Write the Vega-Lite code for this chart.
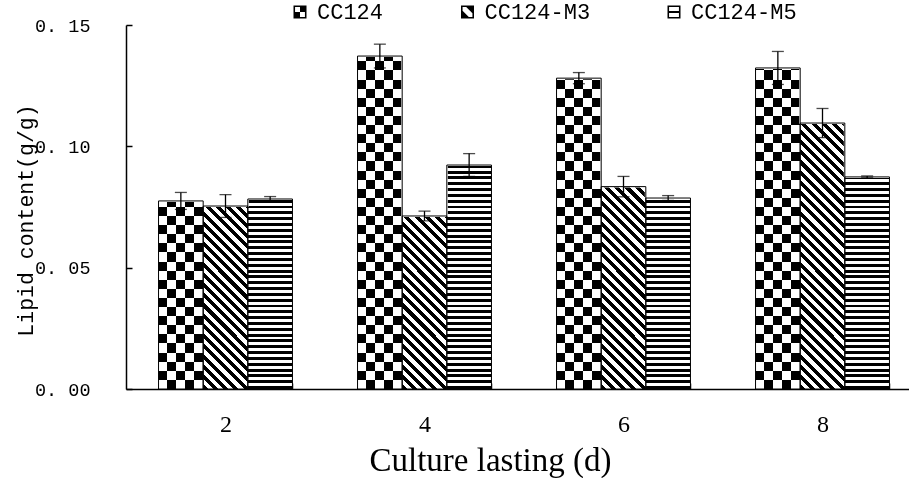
{
"$schema": "https://vega.github.io/schema/vega-lite/v6.json",
"width": 783,
"height": 364,
"autosize": {"type": "none"},
"padding": {"left": 126, "top": 25, "right": 0, "bottom": 89},
"background": "white",
"config": {"view": {"stroke": null}, "axis": {"grid": false}},
"data": {"values": [
{"day": 2, "series": "CC124", "value": 0.0775, "lo": 0.074, "hi": 0.081},
{"day": 2, "series": "CC124-M3", "value": 0.0754, "lo": 0.0707, "hi": 0.0801},
{"day": 2, "series": "CC124-M5", "value": 0.0783, "lo": 0.0773, "hi": 0.0793},
{"day": 4, "series": "CC124", "value": 0.1372, "lo": 0.1323, "hi": 0.1421},
{"day": 4, "series": "CC124-M3", "value": 0.0713, "lo": 0.0693, "hi": 0.0733},
{"day": 4, "series": "CC124-M5", "value": 0.0923, "lo": 0.0876, "hi": 0.097},
{"day": 6, "series": "CC124", "value": 0.1281, "lo": 0.1258, "hi": 0.1304},
{"day": 6, "series": "CC124-M3", "value": 0.0834, "lo": 0.0792, "hi": 0.0876},
{"day": 6, "series": "CC124-M5", "value": 0.0787, "lo": 0.0777, "hi": 0.0797},
{"day": 8, "series": "CC124", "value": 0.1323, "lo": 0.1255, "hi": 0.1391},
{"day": 8, "series": "CC124-M3", "value": 0.1096, "lo": 0.1036, "hi": 0.1156},
{"day": 8, "series": "CC124-M5", "value": 0.0874, "lo": 0.087, "hi": 0.0878}
]},
"encoding": {
"x": {"field": "day", "type": "ordinal", "scale": {"range": [0, 796], "paddingInner": 0.327, "paddingOuter": 0.1635},
"axis": {"title": "Culture lasting (d)", "labelAngle": 0, "tickBand": "extent", "tickSize": -6, "tickWidth": 1.5, "tickColor": "#000", "domainColor": "#000", "domainWidth": 1.5, "labelFont": "Liberation Serif", "labelFontSize": 24, "labelColor": "#000", "labelPadding": 29, "titleFont": "Liberation Serif", "titleFontSize": 33, "titleFontWeight": "normal", "titleColor": "#000", "titleX": 364, "titleY": 81, "titleBaseline": "alphabetic", "titleAlign": "center"}},
"xOffset": {"field": "series", "type": "nominal", "scale": {"domain": ["CC124", "CC124-M3", "CC124-M5"], "paddingInner": 0, "paddingOuter": 0}}
},
"layer": [
{"mark": {"type": "point", "filled": true, "color": "#000", "size": 169, "opacity": 1},
"encoding": {
"y": {"field": "value", "type": "quantitative", "title": "Lipid content(g/g)", "scale": {"domain": [0, 0.15], "nice": false},
"axis": {"title": "Lipid content(g/g)", "values": [0, 0.05, 0.1, 0.15], "labelExpr": "replace(format(datum.value,'.2f'),'.','. ')", "labelFlush": false, "tickSize": -6, "tickWidth": 1.5, "tickColor": "#000", "domainColor": "#000", "domainWidth": 1.5, "labelFont": "Liberation Mono", "labelFontSize": 18.5, "labelColor": "#000", "labelPadding": 42, "titleFont": "Liberation Mono", "titleFontSize": 21.5, "titleFontWeight": "normal", "titleColor": "#000", "titleX": -94, "titleY": 195, "titleAngle": 270, "titleBaseline": "alphabetic", "titleAlign": "center"}},
"shape": {"field": "series", "type": "nominal", "scale": {"range": [
"M-1,-1H1V1H-1ZM-0.76,-0.76V0.76H0.76V-0.76ZM0,-0.76H0.76V0H0ZM-0.76,0H0V0.76H-0.76Z",
"M-1,-1H1V1H-1ZM-0.76,-0.76V0.76H0.76V-0.76ZM-0.2,-0.76H0.76V0.2ZM-0.76,-0.2L0.2,0.76H-0.76Z",
"M-1,-1H1V1H-1ZM-0.76,-0.76V0.76H0.76V-0.76ZM-0.76,-0.17H0.76V0.17H-0.76Z"]},
"legend": {"orient": "none", "legendX": 163, "legendY": -24, "direction": "horizontal", "title": null, "padding": 0,
"symbolSize": 169, "symbolStrokeWidth": 0, "symbolFillColor": "#000",
"labelFont": "Liberation Mono", "labelFontSize": 22, "labelColor": "#000", "labelOffset": 6, "columnPadding": 72.5}}
}},
{"mark": {"type": "bar", "stroke": null},
"encoding": {
"y": {"datum": 0.15, "type": "quantitative", "title": "Lipid content(g/g)"},
"y2": {"datum": 0},
"fill": {"condition": [
{"test": "datum.series==='CC124'", "value": {"gradient": "linear", "x1": 0, "y1": 0, "x2": 0, "y2": 1, "stops": [
{"offset":0,"color":"#000"},{"offset":0.025,"color":"#000"},{"offset":0.025,"color":"#fff"},{"offset":0.05,"color":"#fff"},
{"offset":0.05,"color":"#000"},{"offset":0.075,"color":"#000"},{"offset":0.075,"color":"#fff"},{"offset":0.1,"color":"#fff"},
{"offset":0.1,"color":"#000"},{"offset":0.125,"color":"#000"},{"offset":0.125,"color":"#fff"},{"offset":0.15,"color":"#fff"},
{"offset":0.15,"color":"#000"},{"offset":0.175,"color":"#000"},{"offset":0.175,"color":"#fff"},{"offset":0.2,"color":"#fff"},
{"offset":0.2,"color":"#000"},{"offset":0.225,"color":"#000"},{"offset":0.225,"color":"#fff"},{"offset":0.25,"color":"#fff"},
{"offset":0.25,"color":"#000"},{"offset":0.275,"color":"#000"},{"offset":0.275,"color":"#fff"},{"offset":0.3,"color":"#fff"},
{"offset":0.3,"color":"#000"},{"offset":0.325,"color":"#000"},{"offset":0.325,"color":"#fff"},{"offset":0.35,"color":"#fff"},
{"offset":0.35,"color":"#000"},{"offset":0.375,"color":"#000"},{"offset":0.375,"color":"#fff"},{"offset":0.4,"color":"#fff"},
{"offset":0.4,"color":"#000"},{"offset":0.425,"color":"#000"},{"offset":0.425,"color":"#fff"},{"offset":0.45,"color":"#fff"},
{"offset":0.45,"color":"#000"},{"offset":0.475,"color":"#000"},{"offset":0.475,"color":"#fff"},{"offset":0.5,"color":"#fff"},
{"offset":0.5,"color":"#000"},{"offset":0.525,"color":"#000"},{"offset":0.525,"color":"#fff"},{"offset":0.55,"color":"#fff"},
{"offset":0.55,"color":"#000"},{"offset":0.575,"color":"#000"},{"offset":0.575,"color":"#fff"},{"offset":0.6,"color":"#fff"},
{"offset":0.6,"color":"#000"},{"offset":0.625,"color":"#000"},{"offset":0.625,"color":"#fff"},{"offset":0.65,"color":"#fff"},
{"offset":0.65,"color":"#000"},{"offset":0.675,"color":"#000"},{"offset":0.675,"color":"#fff"},{"offset":0.7,"color":"#fff"},
{"offset":0.7,"color":"#000"},{"offset":0.725,"color":"#000"},{"offset":0.725,"color":"#fff"},{"offset":0.75,"color":"#fff"},
{"offset":0.75,"color":"#000"},{"offset":0.775,"color":"#000"},{"offset":0.775,"color":"#fff"},{"offset":0.8,"color":"#fff"},
{"offset":0.8,"color":"#000"},{"offset":0.825,"color":"#000"},{"offset":0.825,"color":"#fff"},{"offset":0.85,"color":"#fff"},
{"offset":0.85,"color":"#000"},{"offset":0.875,"color":"#000"},{"offset":0.875,"color":"#fff"},{"offset":0.9,"color":"#fff"},
{"offset":0.9,"color":"#000"},{"offset":0.925,"color":"#000"},{"offset":0.925,"color":"#fff"},{"offset":0.95,"color":"#fff"},
{"offset":0.95,"color":"#000"},{"offset":0.975,"color":"#000"},{"offset":0.975,"color":"#fff"},{"offset":1,"color":"#fff"}]}},
{"test": "datum.series==='CC124-M3'", "value": {"gradient": "linear", "x1": 0, "y1": 1, "x2": 0.1358, "y2": -0.1062, "stops": [
{"offset":0,"color":"#000"},{"offset":0.0125,"color":"#000"},{"offset":0.0125,"color":"#fff"},{"offset":0.025,"color":"#fff"},
{"offset":0.025,"color":"#000"},{"offset":0.0375,"color":"#000"},{"offset":0.0375,"color":"#fff"},{"offset":0.05,"color":"#fff"},
{"offset":0.05,"color":"#000"},{"offset":0.0625,"color":"#000"},{"offset":0.0625,"color":"#fff"},{"offset":0.075,"color":"#fff"},
{"offset":0.075,"color":"#000"},{"offset":0.0875,"color":"#000"},{"offset":0.0875,"color":"#fff"},{"offset":0.1,"color":"#fff"},
{"offset":0.1,"color":"#000"},{"offset":0.1125,"color":"#000"},{"offset":0.1125,"color":"#fff"},{"offset":0.125,"color":"#fff"},
{"offset":0.125,"color":"#000"},{"offset":0.1375,"color":"#000"},{"offset":0.1375,"color":"#fff"},{"offset":0.15,"color":"#fff"},
{"offset":0.15,"color":"#000"},{"offset":0.1625,"color":"#000"},{"offset":0.1625,"color":"#fff"},{"offset":0.175,"color":"#fff"},
{"offset":0.175,"color":"#000"},{"offset":0.1875,"color":"#000"},{"offset":0.1875,"color":"#fff"},{"offset":0.2,"color":"#fff"},
{"offset":0.2,"color":"#000"},{"offset":0.2125,"color":"#000"},{"offset":0.2125,"color":"#fff"},{"offset":0.225,"color":"#fff"},
{"offset":0.225,"color":"#000"},{"offset":0.2375,"color":"#000"},{"offset":0.2375,"color":"#fff"},{"offset":0.25,"color":"#fff"},
{"offset":0.25,"color":"#000"},{"offset":0.2625,"color":"#000"},{"offset":0.2625,"color":"#fff"},{"offset":0.275,"color":"#fff"},
{"offset":0.275,"color":"#000"},{"offset":0.2875,"color":"#000"},{"offset":0.2875,"color":"#fff"},{"offset":0.3,"color":"#fff"},
{"offset":0.3,"color":"#000"},{"offset":0.3125,"color":"#000"},{"offset":0.3125,"color":"#fff"},{"offset":0.325,"color":"#fff"},
{"offset":0.325,"color":"#000"},{"offset":0.3375,"color":"#000"},{"offset":0.3375,"color":"#fff"},{"offset":0.35,"color":"#fff"},
{"offset":0.35,"color":"#000"},{"offset":0.3625,"color":"#000"},{"offset":0.3625,"color":"#fff"},{"offset":0.375,"color":"#fff"},
{"offset":0.375,"color":"#000"},{"offset":0.3875,"color":"#000"},{"offset":0.3875,"color":"#fff"},{"offset":0.4,"color":"#fff"},
{"offset":0.4,"color":"#000"},{"offset":0.4125,"color":"#000"},{"offset":0.4125,"color":"#fff"},{"offset":0.425,"color":"#fff"},
{"offset":0.425,"color":"#000"},{"offset":0.4375,"color":"#000"},{"offset":0.4375,"color":"#fff"},{"offset":0.45,"color":"#fff"},
{"offset":0.45,"color":"#000"},{"offset":0.4625,"color":"#000"},{"offset":0.4625,"color":"#fff"},{"offset":0.475,"color":"#fff"},
{"offset":0.475,"color":"#000"},{"offset":0.4875,"color":"#000"},{"offset":0.4875,"color":"#fff"},{"offset":0.5,"color":"#fff"},
{"offset":0.5,"color":"#000"},{"offset":0.5125,"color":"#000"},{"offset":0.5125,"color":"#fff"},{"offset":0.525,"color":"#fff"},
{"offset":0.525,"color":"#000"},{"offset":0.5375,"color":"#000"},{"offset":0.5375,"color":"#fff"},{"offset":0.55,"color":"#fff"},
{"offset":0.55,"color":"#000"},{"offset":0.5625,"color":"#000"},{"offset":0.5625,"color":"#fff"},{"offset":0.575,"color":"#fff"},
{"offset":0.575,"color":"#000"},{"offset":0.5875,"color":"#000"},{"offset":0.5875,"color":"#fff"},{"offset":0.6,"color":"#fff"},
{"offset":0.6,"color":"#000"},{"offset":0.6125,"color":"#000"},{"offset":0.6125,"color":"#fff"},{"offset":0.625,"color":"#fff"},
{"offset":0.625,"color":"#000"},{"offset":0.6375,"color":"#000"},{"offset":0.6375,"color":"#fff"},{"offset":0.65,"color":"#fff"},
{"offset":0.65,"color":"#000"},{"offset":0.6625,"color":"#000"},{"offset":0.6625,"color":"#fff"},{"offset":0.675,"color":"#fff"},
{"offset":0.675,"color":"#000"},{"offset":0.6875,"color":"#000"},{"offset":0.6875,"color":"#fff"},{"offset":0.7,"color":"#fff"},
{"offset":0.7,"color":"#000"},{"offset":0.7125,"color":"#000"},{"offset":0.7125,"color":"#fff"},{"offset":0.725,"color":"#fff"},
{"offset":0.725,"color":"#000"},{"offset":0.7375,"color":"#000"},{"offset":0.7375,"color":"#fff"},{"offset":0.75,"color":"#fff"},
{"offset":0.75,"color":"#000"},{"offset":0.7625,"color":"#000"},{"offset":0.7625,"color":"#fff"},{"offset":0.775,"color":"#fff"},
{"offset":0.775,"color":"#000"},{"offset":0.7875,"color":"#000"},{"offset":0.7875,"color":"#fff"},{"offset":0.8,"color":"#fff"},
{"offset":0.8,"color":"#000"},{"offset":0.8125,"color":"#000"},{"offset":0.8125,"color":"#fff"},{"offset":0.825,"color":"#fff"},
{"offset":0.825,"color":"#000"},{"offset":0.8375,"color":"#000"},{"offset":0.8375,"color":"#fff"},{"offset":0.85,"color":"#fff"},
{"offset":0.85,"color":"#000"},{"offset":0.8625,"color":"#000"},{"offset":0.8625,"color":"#fff"},{"offset":0.875,"color":"#fff"},
{"offset":0.875,"color":"#000"},{"offset":0.8875,"color":"#000"},{"offset":0.8875,"color":"#fff"},{"offset":0.9,"color":"#fff"},
{"offset":0.9,"color":"#000"},{"offset":0.9125,"color":"#000"},{"offset":0.9125,"color":"#fff"},{"offset":0.925,"color":"#fff"},
{"offset":0.925,"color":"#000"},{"offset":0.9375,"color":"#000"},{"offset":0.9375,"color":"#fff"},{"offset":0.95,"color":"#fff"},
{"offset":0.95,"color":"#000"},{"offset":0.9625,"color":"#000"},{"offset":0.9625,"color":"#fff"},{"offset":0.975,"color":"#fff"},
{"offset":0.975,"color":"#000"},{"offset":0.9875,"color":"#000"},{"offset":0.9875,"color":"#fff"},{"offset":1,"color":"#fff"}]}}
],
"value": {"gradient": "linear", "x1": 0, "y1": 0, "x2": 0, "y2": 1, "stops": [
{"offset":0,"color":"#000"},{"offset":0.008,"color":"#000"},{"offset":0.008,"color":"#fff"},{"offset":0.016,"color":"#fff"},
{"offset":0.016,"color":"#000"},{"offset":0.024,"color":"#000"},{"offset":0.024,"color":"#fff"},{"offset":0.032,"color":"#fff"},
{"offset":0.032,"color":"#000"},{"offset":0.04,"color":"#000"},{"offset":0.04,"color":"#fff"},{"offset":0.048,"color":"#fff"},
{"offset":0.048,"color":"#000"},{"offset":0.056,"color":"#000"},{"offset":0.056,"color":"#fff"},{"offset":0.064,"color":"#fff"},
{"offset":0.064,"color":"#000"},{"offset":0.072,"color":"#000"},{"offset":0.072,"color":"#fff"},{"offset":0.08,"color":"#fff"},
{"offset":0.08,"color":"#000"},{"offset":0.088,"color":"#000"},{"offset":0.088,"color":"#fff"},{"offset":0.096,"color":"#fff"},
{"offset":0.096,"color":"#000"},{"offset":0.104,"color":"#000"},{"offset":0.104,"color":"#fff"},{"offset":0.112,"color":"#fff"},
{"offset":0.112,"color":"#000"},{"offset":0.12,"color":"#000"},{"offset":0.12,"color":"#fff"},{"offset":0.128,"color":"#fff"},
{"offset":0.128,"color":"#000"},{"offset":0.136,"color":"#000"},{"offset":0.136,"color":"#fff"},{"offset":0.144,"color":"#fff"},
{"offset":0.144,"color":"#000"},{"offset":0.152,"color":"#000"},{"offset":0.152,"color":"#fff"},{"offset":0.16,"color":"#fff"},
{"offset":0.16,"color":"#000"},{"offset":0.168,"color":"#000"},{"offset":0.168,"color":"#fff"},{"offset":0.176,"color":"#fff"},
{"offset":0.176,"color":"#000"},{"offset":0.184,"color":"#000"},{"offset":0.184,"color":"#fff"},{"offset":0.192,"color":"#fff"},
{"offset":0.192,"color":"#000"},{"offset":0.2,"color":"#000"},{"offset":0.2,"color":"#fff"},{"offset":0.208,"color":"#fff"},
{"offset":0.208,"color":"#000"},{"offset":0.216,"color":"#000"},{"offset":0.216,"color":"#fff"},{"offset":0.224,"color":"#fff"},
{"offset":0.224,"color":"#000"},{"offset":0.232,"color":"#000"},{"offset":0.232,"color":"#fff"},{"offset":0.24,"color":"#fff"},
{"offset":0.24,"color":"#000"},{"offset":0.248,"color":"#000"},{"offset":0.248,"color":"#fff"},{"offset":0.256,"color":"#fff"},
{"offset":0.256,"color":"#000"},{"offset":0.264,"color":"#000"},{"offset":0.264,"color":"#fff"},{"offset":0.272,"color":"#fff"},
{"offset":0.272,"color":"#000"},{"offset":0.28,"color":"#000"},{"offset":0.28,"color":"#fff"},{"offset":0.288,"color":"#fff"},
{"offset":0.288,"color":"#000"},{"offset":0.296,"color":"#000"},{"offset":0.296,"color":"#fff"},{"offset":0.304,"color":"#fff"},
{"offset":0.304,"color":"#000"},{"offset":0.312,"color":"#000"},{"offset":0.312,"color":"#fff"},{"offset":0.32,"color":"#fff"},
{"offset":0.32,"color":"#000"},{"offset":0.328,"color":"#000"},{"offset":0.328,"color":"#fff"},{"offset":0.336,"color":"#fff"},
{"offset":0.336,"color":"#000"},{"offset":0.344,"color":"#000"},{"offset":0.344,"color":"#fff"},{"offset":0.352,"color":"#fff"},
{"offset":0.352,"color":"#000"},{"offset":0.36,"color":"#000"},{"offset":0.36,"color":"#fff"},{"offset":0.368,"color":"#fff"},
{"offset":0.368,"color":"#000"},{"offset":0.376,"color":"#000"},{"offset":0.376,"color":"#fff"},{"offset":0.384,"color":"#fff"},
{"offset":0.384,"color":"#000"},{"offset":0.392,"color":"#000"},{"offset":0.392,"color":"#fff"},{"offset":0.4,"color":"#fff"},
{"offset":0.4,"color":"#000"},{"offset":0.408,"color":"#000"},{"offset":0.408,"color":"#fff"},{"offset":0.416,"color":"#fff"},
{"offset":0.416,"color":"#000"},{"offset":0.424,"color":"#000"},{"offset":0.424,"color":"#fff"},{"offset":0.432,"color":"#fff"},
{"offset":0.432,"color":"#000"},{"offset":0.44,"color":"#000"},{"offset":0.44,"color":"#fff"},{"offset":0.448,"color":"#fff"},
{"offset":0.448,"color":"#000"},{"offset":0.456,"color":"#000"},{"offset":0.456,"color":"#fff"},{"offset":0.464,"color":"#fff"},
{"offset":0.464,"color":"#000"},{"offset":0.472,"color":"#000"},{"offset":0.472,"color":"#fff"},{"offset":0.48,"color":"#fff"},
{"offset":0.48,"color":"#000"},{"offset":0.488,"color":"#000"},{"offset":0.488,"color":"#fff"},{"offset":0.496,"color":"#fff"},
{"offset":0.496,"color":"#000"},{"offset":0.504,"color":"#000"},{"offset":0.504,"color":"#fff"},{"offset":0.512,"color":"#fff"},
{"offset":0.512,"color":"#000"},{"offset":0.52,"color":"#000"},{"offset":0.52,"color":"#fff"},{"offset":0.528,"color":"#fff"},
{"offset":0.528,"color":"#000"},{"offset":0.536,"color":"#000"},{"offset":0.536,"color":"#fff"},{"offset":0.544,"color":"#fff"},
{"offset":0.544,"color":"#000"},{"offset":0.552,"color":"#000"},{"offset":0.552,"color":"#fff"},{"offset":0.56,"color":"#fff"},
{"offset":0.56,"color":"#000"},{"offset":0.568,"color":"#000"},{"offset":0.568,"color":"#fff"},{"offset":0.576,"color":"#fff"},
{"offset":0.576,"color":"#000"},{"offset":0.584,"color":"#000"},{"offset":0.584,"color":"#fff"},{"offset":0.592,"color":"#fff"},
{"offset":0.592,"color":"#000"},{"offset":0.6,"color":"#000"},{"offset":0.6,"color":"#fff"},{"offset":0.608,"color":"#fff"},
{"offset":0.608,"color":"#000"},{"offset":0.616,"color":"#000"},{"offset":0.616,"color":"#fff"},{"offset":0.624,"color":"#fff"},
{"offset":0.624,"color":"#000"},{"offset":0.632,"color":"#000"},{"offset":0.632,"color":"#fff"},{"offset":0.64,"color":"#fff"},
{"offset":0.64,"color":"#000"},{"offset":0.648,"color":"#000"},{"offset":0.648,"color":"#fff"},{"offset":0.656,"color":"#fff"},
{"offset":0.656,"color":"#000"},{"offset":0.664,"color":"#000"},{"offset":0.664,"color":"#fff"},{"offset":0.672,"color":"#fff"},
{"offset":0.672,"color":"#000"},{"offset":0.68,"color":"#000"},{"offset":0.68,"color":"#fff"},{"offset":0.688,"color":"#fff"},
{"offset":0.688,"color":"#000"},{"offset":0.696,"color":"#000"},{"offset":0.696,"color":"#fff"},{"offset":0.704,"color":"#fff"},
{"offset":0.704,"color":"#000"},{"offset":0.712,"color":"#000"},{"offset":0.712,"color":"#fff"},{"offset":0.72,"color":"#fff"},
{"offset":0.72,"color":"#000"},{"offset":0.728,"color":"#000"},{"offset":0.728,"color":"#fff"},{"offset":0.736,"color":"#fff"},
{"offset":0.736,"color":"#000"},{"offset":0.744,"color":"#000"},{"offset":0.744,"color":"#fff"},{"offset":0.752,"color":"#fff"},
{"offset":0.752,"color":"#000"},{"offset":0.76,"color":"#000"},{"offset":0.76,"color":"#fff"},{"offset":0.768,"color":"#fff"},
{"offset":0.768,"color":"#000"},{"offset":0.776,"color":"#000"},{"offset":0.776,"color":"#fff"},{"offset":0.784,"color":"#fff"},
{"offset":0.784,"color":"#000"},{"offset":0.792,"color":"#000"},{"offset":0.792,"color":"#fff"},{"offset":0.8,"color":"#fff"},
{"offset":0.8,"color":"#000"},{"offset":0.808,"color":"#000"},{"offset":0.808,"color":"#fff"},{"offset":0.816,"color":"#fff"},
{"offset":0.816,"color":"#000"},{"offset":0.824,"color":"#000"},{"offset":0.824,"color":"#fff"},{"offset":0.832,"color":"#fff"},
{"offset":0.832,"color":"#000"},{"offset":0.84,"color":"#000"},{"offset":0.84,"color":"#fff"},{"offset":0.848,"color":"#fff"},
{"offset":0.848,"color":"#000"},{"offset":0.856,"color":"#000"},{"offset":0.856,"color":"#fff"},{"offset":0.864,"color":"#fff"},
{"offset":0.864,"color":"#000"},{"offset":0.872,"color":"#000"},{"offset":0.872,"color":"#fff"},{"offset":0.88,"color":"#fff"},
{"offset":0.88,"color":"#000"},{"offset":0.888,"color":"#000"},{"offset":0.888,"color":"#fff"},{"offset":0.896,"color":"#fff"},
{"offset":0.896,"color":"#000"},{"offset":0.904,"color":"#000"},{"offset":0.904,"color":"#fff"},{"offset":0.912,"color":"#fff"},
{"offset":0.912,"color":"#000"},{"offset":0.92,"color":"#000"},{"offset":0.92,"color":"#fff"},{"offset":0.928,"color":"#fff"},
{"offset":0.928,"color":"#000"},{"offset":0.936,"color":"#000"},{"offset":0.936,"color":"#fff"},{"offset":0.944,"color":"#fff"},
{"offset":0.944,"color":"#000"},{"offset":0.952,"color":"#000"},{"offset":0.952,"color":"#fff"},{"offset":0.96,"color":"#fff"},
{"offset":0.96,"color":"#000"},{"offset":0.968,"color":"#000"},{"offset":0.968,"color":"#fff"},{"offset":0.976,"color":"#fff"},
{"offset":0.976,"color":"#000"},{"offset":0.984,"color":"#000"},{"offset":0.984,"color":"#fff"},{"offset":0.992,"color":"#fff"},
{"offset":0.992,"color":"#000"},{"offset":1,"color":"#000"}]}}
}},
{"transform": [{"filter": "datum.series==='CC124'"}],
"mark": {"type": "bar", "blend": "difference", "stroke": null},
"encoding": {
"y": {"field": "value", "type": "quantitative", "title": "Lipid content(g/g)"},
"fill": {"value": {"gradient": "linear", "x1": 0, "y1": 0, "x2": 1, "y2": 0, "stops": [
{"offset":0,"color":"#000"},{"offset":0.2,"color":"#000"},{"offset":0.2,"color":"#fff"},{"offset":0.4,"color":"#fff"},
{"offset":0.4,"color":"#000"},{"offset":0.6,"color":"#000"},{"offset":0.6,"color":"#fff"},{"offset":0.8,"color":"#fff"},
{"offset":0.8,"color":"#000"},{"offset":1,"color":"#000"}]}}
}},
{"mark": {"type": "bar", "fill": "#fff", "stroke": "#fff", "strokeWidth": 2},
"encoding": {
"y": {"field": "value", "type": "quantitative", "title": "Lipid content(g/g)"},
"y2": {"datum": 0.15}
}},
{"mark": {"type": "bar", "fill": "transparent", "stroke": "#000", "strokeWidth": 1},
"encoding": {
"y": {"field": "value", "type": "quantitative", "title": "Lipid content(g/g)"}
}},
{"mark": {"type": "rule", "stroke": "#000", "strokeWidth": 1.3},
"encoding": {
"y": {"field": "lo", "type": "quantitative", "title": "Lipid content(g/g)"},
"y2": {"field": "hi"}
}},
{"mark": {"type": "tick", "color": "#000", "size": 12, "thickness": 1.3},
"encoding": {"y": {"field": "lo", "type": "quantitative", "title": "Lipid content(g/g)"}}},
{"mark": {"type": "tick", "color": "#000", "size": 12, "thickness": 1.3},
"encoding": {"y": {"field": "hi", "type": "quantitative", "title": "Lipid content(g/g)"}}}
]
}
